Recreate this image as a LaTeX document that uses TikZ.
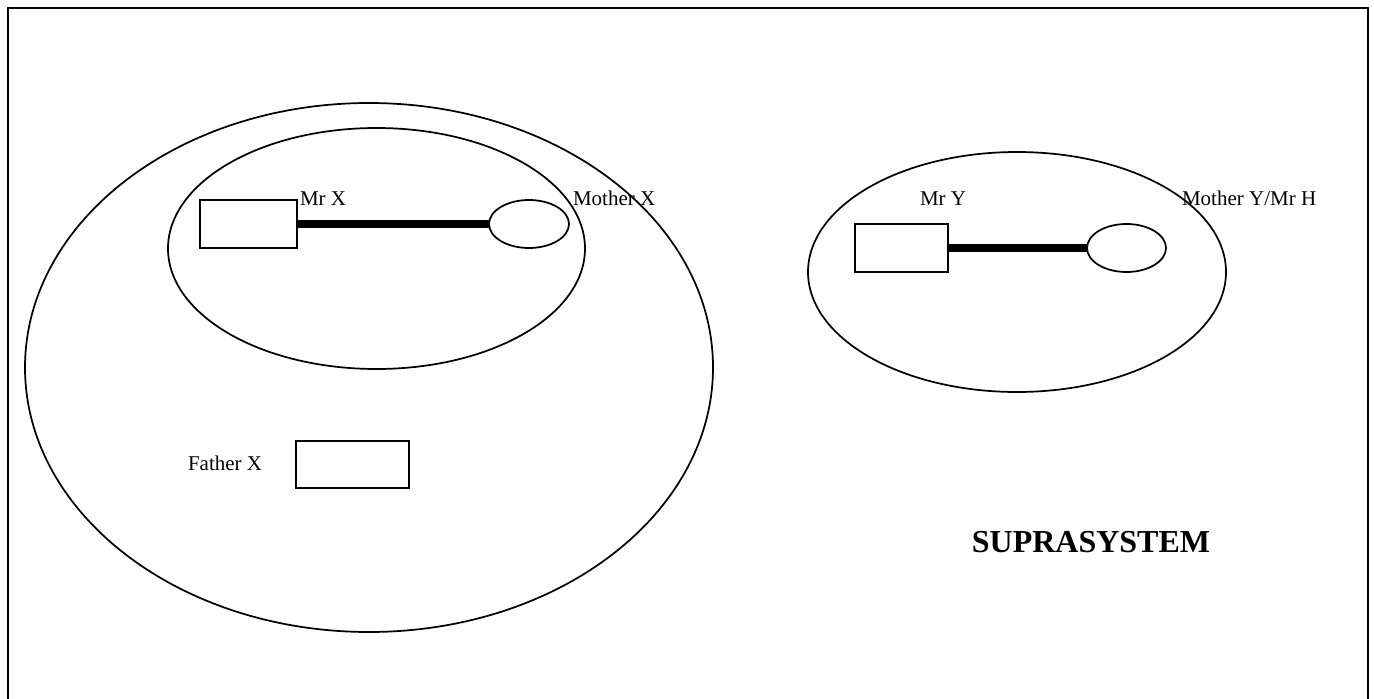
\documentclass[tikz,border=0pt]{standalone}
\usepackage{fontspec}
\setmainfont{Liberation Serif}
\usetikzlibrary{shapes.geometric}
\begin{document}
\begin{tikzpicture}[x=0.75pt,y=-0.75pt,
  every node/.style={inner sep=0pt,outer sep=0pt},
  frame/.style={line width=1.4pt},
  ring/.style={draw,ellipse,line width=1.3pt},
  member/.style={draw,rectangle,line width=1.3pt},
  tie/.style={line width=5.6pt},
  lbl/.style={anchor=base west,font=\fontsize{15.75}{18}\selectfont},
  title/.style={anchor=base,font=\fontsize{24}{28}\selectfont\bfseries}]
\useasboundingbox (0,0) rectangle (1374,699);
% outer frame (runs past the bottom edge of the page)
\draw[frame] (8,699) -- (8,8) -- (1368,8) -- (1368,699);

% family X: suprasystem ellipse and the inner subsystem
\node[ring,minimum width=688*0.75pt,minimum height=529*0.75pt] (famX) at (369,367.5) {};
\node[ring,minimum width=417*0.75pt,minimum height=241*0.75pt] (subX) at (376.5,248.5) {};
\node[member,minimum width=97*0.75pt,minimum height=48*0.75pt] (mrX) at (248.5,224) {};
\node[ring,minimum width=80*0.75pt,minimum height=48*0.75pt] (motherX) at (529,224) {};
\draw[tie] (mrX.east) -- (motherX.west);
\node[member,minimum width=113*0.75pt,minimum height=47*0.75pt] (fatherX) at (352.5,464.5) {};

% family Y
\node[ring,minimum width=418*0.75pt,minimum height=240*0.75pt] (famY) at (1017,272) {};
\node[member,minimum width=93*0.75pt,minimum height=48*0.75pt] (mrY) at (901.5,248) {};
\node[ring,minimum width=79*0.75pt,minimum height=48*0.75pt] (motherY) at (1126.5,248) {};
\draw[tie] (mrY.east) -- (motherY.west);

% labels
\node[lbl] (lmrX) at (300,205.5) {Mr X};
\node[lbl] (lmotherX) at (573,205.5) {Mother X};
\node[lbl] (lfatherX) at (188,470) {Father X};
\node[lbl] (lmrY) at (920,205.5) {Mr Y};
\node[lbl] (lmotherY) at (1182,205.5) {Mother Y/Mr H};
\node[title] (supra) at (1091,552) {SUPRASYSTEM};
\end{tikzpicture}
\end{document}
